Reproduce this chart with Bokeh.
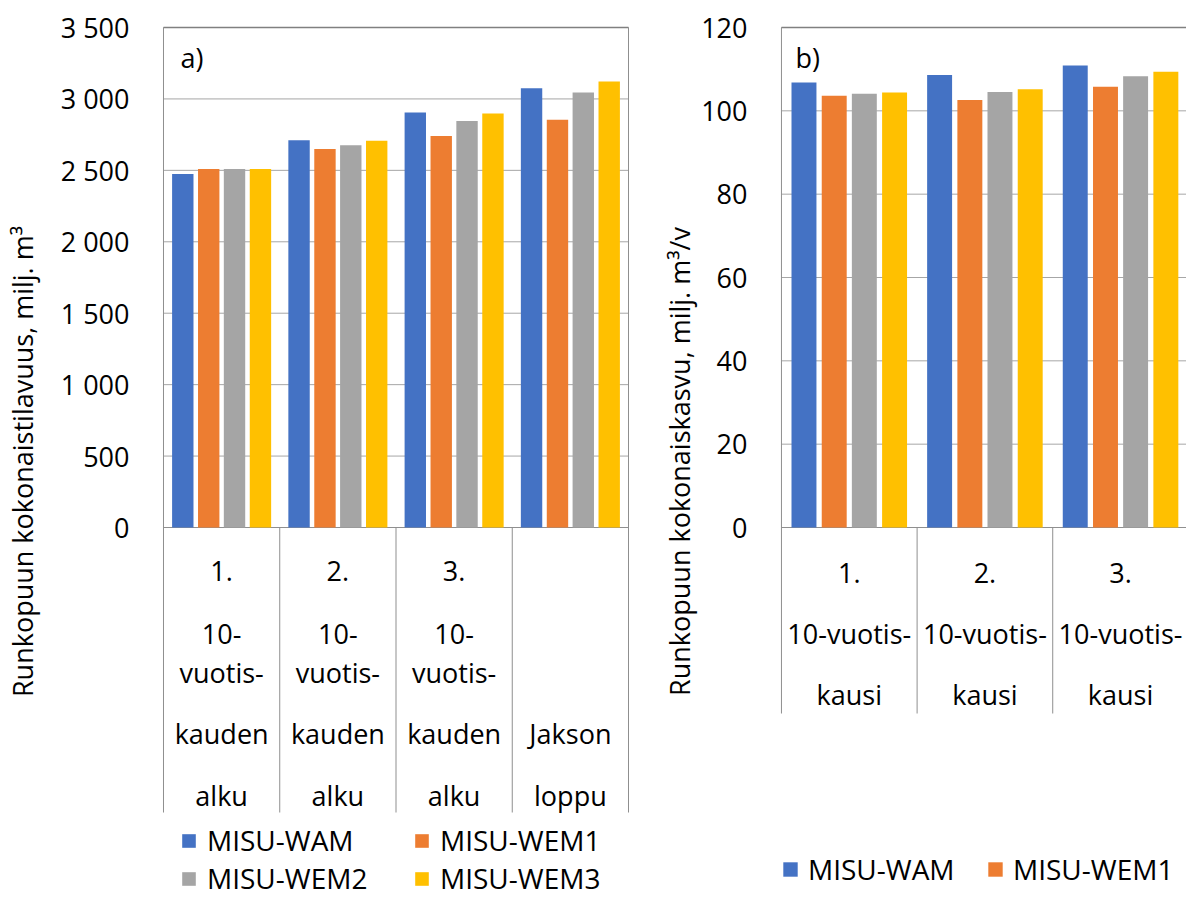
import numpy as np
from bokeh.plotting import figure
from bokeh.models import Range1d, FixedTicker, Legend, LegendItem, ColumnDataSource
from bokeh.layouts import row
from bokeh.embed import file_html
from bokeh.resources import INLINE
from bokeh.core.properties import value

# ---------------- data ----------------
series = ["MISU-WAM", "MISU-WEM1", "MISU-WEM2", "MISU-WEM3"]
colors = ["#4472C4", "#ED7D31", "#A5A5A5", "#FFC000"]

# chart a) total stem volume, million m3
labels_a = [
    ["1.", "10-", "vuotis-", "kauden", "alku"],
    ["2.", "10-", "vuotis-", "kauden", "alku"],
    ["3.", "10-", "vuotis-", "kauden", "alku"],
    ["", "", "", "Jakson", "loppu"],
]
vol_wam = [2475, 2710, 2905, 3075]
vol_wem1 = [2510, 2650, 2740, 2855]
vol_wem2 = [2510, 2675, 2845, 3045]
vol_wem3 = [2510, 2707, 2898, 3122]
ticks_a = [0, 500, 1000, 1500, 2000, 2500, 3000, 3500]
tick_labels_a = ["0", "500", "1 000", "1 500", "2 000", "2 500", "3 000", "3 500"]
title_a = "Runkopuun kokonaistilavuus, milj. m\u00b3"

# chart b) total stem increment, million m3/a
labels_b = [
    ["1.", "10-vuotis-", "kausi"],
    ["2.", "10-vuotis-", "kausi"],
    ["3.", "10-vuotis-", "kausi"],
]
gr_wam = [106.8, 108.6, 110.9]
gr_wem1 = [103.6, 102.6, 105.8]
gr_wem2 = [104.1, 104.5, 108.3]
gr_wem3 = [104.4, 105.2, 109.4]
ticks_b = [0, 20, 40, 60, 80, 100, 120]
tick_labels_b = ["0", "20", "40", "60", "80", "100", "120"]
title_b = "Runkopuun kokonaiskasvu, milj. m\u00b3/v"

# ---------------- style ----------------
FONT = "Open Sans"
GRID = "#a6a6a6"
FRAME = "#8f8f8f"
offsets = [-0.334, -0.111, 0.111, 0.334]
BAR_W = 0.184
FIG_H = 897
FRAME_TOP = 25


def make_panel(width, border_left, border_right, group_px, ymax, px_per_unit,
               zero_px, sep_bottom_px, vals, labels, ticks, tick_labels,
               row_offsets, panel_text, panel_dx, title, title_standoff, legend_items_n, legend_loc,
               legend_label_w, glyph_sz, glyph_standoff):
    frame_h = FIG_H - FRAME_TOP
    y_top = ymax + 2 / px_per_unit
    y_bot = y_top - frame_h / px_per_unit
    x0 = -0.5 - 2 / group_px
    frame_w = width - border_left - border_right
    x1 = x0 + frame_w / group_px
    p = figure(width=width, height=FIG_H, x_range=Range1d(x0, x1), y_range=Range1d(y_bot, y_top),
               output_backend="svg", toolbar_location=None, x_axis_location=None,
               min_border_left=border_left, min_border_right=border_right,
               min_border_top=FRAME_TOP, min_border_bottom=0)
    p.outline_line_color = None
    p.xgrid.visible = False
    p.ygrid.visible = False
    p.background_fill_color = "white"
    ax = p.yaxis[0]
    ax.ticker = FixedTicker(ticks=ticks)
    ax.bounds = (ticks[0], ticks[-1])
    ax.major_label_overrides = {t: s for t, s in zip(ticks, tick_labels)}
    ax.axis_line_color = None
    ax.major_tick_line_color = None
    ax.minor_tick_line_color = None
    ax.major_tick_out = 0
    ax.major_label_standoff = 32
    ax.major_label_text_font = FONT
    ax.major_label_text_font_size = "27px"
    ax.major_label_text_color = "black"
    ax.axis_label = title
    ax.axis_label_standoff = title_standoff
    ax.axis_label_text_font = FONT
    ax.axis_label_text_font_size = "27px"
    ax.axis_label_text_font_style = "normal"
    ax.axis_label_text_color = "black"

    n = len(labels)
    idx = np.arange(n)
    sep_bottom = -(sep_bottom_px - zero_px) / px_per_unit
    right = min(n - 0.5, x1)
    # gridlines
    p.segment(x0=[-0.5] * len(ticks), x1=[right] * len(ticks), y0=ticks, y1=ticks,
              line_color=GRID, line_width=1)
    # top border
    p.segment(x0=[-0.5], x1=[right], y0=[ticks[-1]], y1=[ticks[-1]],
              line_color="#808080", line_width=1.3)
    # zero line
    p.segment(x0=[-0.5], x1=[right], y0=[0], y1=[0], line_color=FRAME, line_width=1)
    # category separators
    seps = np.arange(n + 1) - 0.5
    tops = [ticks[-1]] + [0] * (n - 1) + [ticks[-1]]
    p.segment(x0=seps, x1=seps, y0=[sep_bottom] * (n + 1), y1=tops, line_color=FRAME, line_width=1)

    renderers = []
    for k, (name, col) in enumerate(zip(series, colors)):
        src = ColumnDataSource(dict(x=idx + offsets[k], top=vals[k]))
        r = p.vbar(x="x", top="top", width=BAR_W, bottom=0, source=src, fill_color=col, line_color=None)
        renderers.append(r)

    # category labels
    tx, ty, tt, toff = [], [], [], []
    for i, lines in enumerate(labels):
        for j, s in enumerate(lines):
            if s:
                tx.append(i); ty.append(0); tt.append(s); toff.append(row_offsets[j])
    p.text(x=tx, y=ty, text=tt, y_offset=toff, text_font=value(FONT), text_font_size="27px",
           text_color="black", text_align="center", text_baseline="alphabetic")
    # panel letter
    p.text(x=[-0.5], y=[ticks[-1]], text=[panel_text], x_offset=panel_dx, y_offset=30,
           text_font=value(FONT), text_font_size="27px", text_color="black",
           text_align="left", text_baseline="alphabetic")

    items = [LegendItem(label=series[k], renderers=[renderers[k]]) for k in range(legend_items_n)]
    leg = Legend(items=items, location=legend_loc, orientation="horizontal", ncols=2,
                 label_text_font=FONT, label_text_font_size="28px", label_text_color="black",
                 glyph_width=glyph_sz, glyph_height=glyph_sz, label_standoff=glyph_standoff,
                 label_width=legend_label_w, spacing=-3, padding=0, margin=0,
                 border_line_color=None, background_fill_alpha=0)
    p.add_layout(leg, "center")
    return p


pa = make_panel(width=658, border_left=159, border_right=28, group_px=116.75,
                ymax=3500, px_per_unit=1 / 7.0, zero_px=527, sep_bottom_px=812,
                vals=[vol_wam, vol_wem1, vol_wem2, vol_wem3], labels=labels_a,
                ticks=ticks_a, tick_labels=tick_labels_a, row_offsets=[43, 106, 145, 206, 268],
                panel_text="a)", panel_dx=17, title=title_a, title_standoff=17, legend_items_n=4,
                legend_loc=(19, 0), legend_label_w=206, glyph_sz=17, glyph_standoff=10)

pb = make_panel(width=528, border_left=113, border_right=0, group_px=138.3,
                ymax=120, px_per_unit=500 / 120.0, zero_px=527, sep_bottom_px=713,
                vals=[gr_wam, gr_wem1, gr_wem2, gr_wem3], labels=labels_b,
                ticks=ticks_b, tick_labels=tick_labels_b, row_offsets=[45, 106, 167],
                panel_text="b)", panel_dx=14, title=title_b, title_standoff=0, legend_items_n=2,
                legend_loc=(2, 9), legend_label_w=178, glyph_sz=18, glyph_standoff=9)

layout = row(pa, pb)
open("out.html", "w").write(file_html(layout, INLINE))
